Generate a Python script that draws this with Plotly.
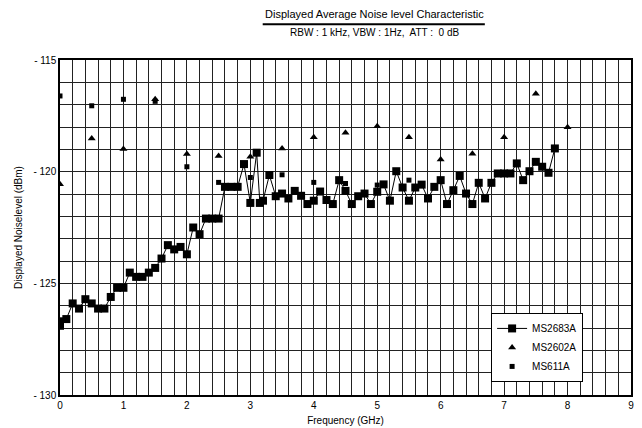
import plotly.graph_objects as go

# MS2683A (line + squares)
f_2683 = [0.0, 0.0, 0.1, 0.2, 0.3, 0.4, 0.5, 0.6, 0.7, 0.8, 0.9, 1.0, 1.1, 1.2, 1.3, 1.4, 1.5,
          1.6, 1.7, 1.8, 1.9, 2.0, 2.1, 2.2, 2.3, 2.4, 2.5, 2.6, 2.7, 2.8, 2.9, 3.0, 3.1, 3.15,
          3.2, 3.3, 3.4, 3.5, 3.6, 3.7, 3.8, 3.9, 4.0, 4.1, 4.2, 4.3, 4.4, 4.5, 4.6, 4.7, 4.8,
          4.9, 5.0, 5.1, 5.2, 5.3, 5.4, 5.5, 5.6, 5.7, 5.8, 5.9, 6.0, 6.1, 6.2, 6.3, 6.4, 6.5,
          6.6, 6.7, 6.8, 6.9, 7.0, 7.1, 7.2, 7.3, 7.4, 7.5, 7.6, 7.7, 7.8]
v_2683 = [-126.9, -126.7, -126.6, -125.9, -126.13, -125.71, -125.9, -126.13, -126.13, -125.61,
          -125.2, -125.2, -124.52, -124.71, -124.71, -124.52, -124.31, -123.89, -123.29, -123.48,
          -123.37, -123.7, -122.5, -122.8, -122.1, -122.1, -122.1, -120.68, -120.68, -120.68,
          -119.66, -121.4, -119.15, -121.4, -121.3, -120.15, -121.1, -120.98, -121.2, -120.86,
          -121.08, -121.45, -121.3, -120.89, -121.27, -121.45, -120.38, -120.86, -121.45, -121.1,
          -120.98, -121.45, -120.9, -120.57, -121.3, -119.98, -120.71, -121.3, -120.71, -120.58,
          -121.2, -120.68, -120.38, -121.45, -120.83, -120.19, -120.98, -121.45, -120.5, -121.2,
          -120.5, -120.08, -120.08, -120.08, -119.63, -120.38, -119.98, -119.56, -119.78, -120.05,
          -118.96]

# MS2602A (triangles)
f_2602 = [0.0, 0.5, 1.0, 1.5, 2.0, 2.5, 3.0, 3.5, 4.0, 4.5, 5.0, 5.5, 6.0, 6.5, 7.0, 7.5, 8.0]
v_2602 = [-120.56, -118.51, -118.99, -116.76, -119.21, -119.3, -119.33, -118.96, -118.46,
          -118.26, -117.97, -118.46, -119.46, -119.2, -118.46, -116.51, -118.01]

# MS611A (small squares)
f_611 = [0.0, 0.5, 1.0, 1.5, 2.0, 2.5, 3.0, 3.5, 4.0, 4.5, 5.0, 5.5]
v_611 = [-116.61, -117.05, -116.76, -116.85, -119.78, -120.48, -120.26, -120.14, -120.48,
         -120.53, -120.6, -120.38]

x_ticks = [round(i * 0.2, 1) for i in range(46)]
x_text = [str(int(t)) if abs(t - round(t)) < 1e-9 else "" for t in x_ticks]
y_ticks = list(range(-130, -114))
y_text = [("- " + str(abs(t))) if t % 5 == 0 else "" for t in y_ticks]

FONT = "Liberation Sans, Arial, sans-serif"

fig = go.Figure()
fig.add_trace(go.Scatter(x=f_2683, y=v_2683, mode="lines+markers", name="MS2683A",
                         line=dict(color="black", width=1),
                         marker=dict(symbol="square", size=8, color="black")))
fig.add_trace(go.Scatter(x=f_2602, y=v_2602, mode="markers", name="MS2602A",
                         marker=dict(symbol="triangle-up", size=7, color="black")))
fig.add_trace(go.Scatter(x=f_611, y=v_611, mode="markers", name="MS611A",
                         marker=dict(symbol="square", size=5, color="black")))

fig.update_layout(
    width=642, height=428,
    margin=dict(l=60, r=11, t=60, b=33, autoexpand=False),
    paper_bgcolor="white", plot_bgcolor="white",
    font=dict(family=FONT, size=10, color="black"),
    showlegend=True,
    legend=dict(x=0.755, y=0.245, xanchor="left", yanchor="top",
                bgcolor="white", bordercolor="black", borderwidth=1,
                font=dict(size=10, family=FONT), tracegroupgap=0, itemwidth=30),
    xaxis=dict(range=[0, 9], tickvals=x_ticks, ticktext=x_text, showgrid=True,
               gridcolor="#222", gridwidth=1, zeroline=False, showline=True,
               linecolor="black", linewidth=1.5, mirror=True, ticks="", automargin=False,
               tickfont=dict(size=10), title=dict(text="Frequency (GHz)", font=dict(size=10), standoff=7)),
    yaxis=dict(range=[-130, -115], tickvals=y_ticks, ticktext=y_text, showgrid=True,
               gridcolor="#222", gridwidth=1, zeroline=False, showline=True,
               linecolor="black", linewidth=1.5, mirror=True, ticks="", automargin=False,
               tickfont=dict(size=10), title=dict(text="Displayed Noiselevel (dBm)", font=dict(size=10), standoff=9)),
    annotations=[
        dict(text="Displayed Average Noise level Characteristic", xref="paper", yref="paper",
             x=0.55, y=1.137, showarrow=False, font=dict(size=11), xanchor="center", yanchor="middle"),
        dict(text="RBW : 1 kHz, VBW : 1Hz,  ATT :  0 dB", xref="paper", yref="paper",
             x=0.55, y=1.081, showarrow=False, font=dict(size=10), xanchor="center", yanchor="middle"),
    ],
    shapes=[dict(type="line", xref="paper", yref="paper", x0=0.355, x1=0.744, y0=1.107, y1=1.107,
                 line=dict(color="black", width=2))],
)

fig.write_html("out.html")
